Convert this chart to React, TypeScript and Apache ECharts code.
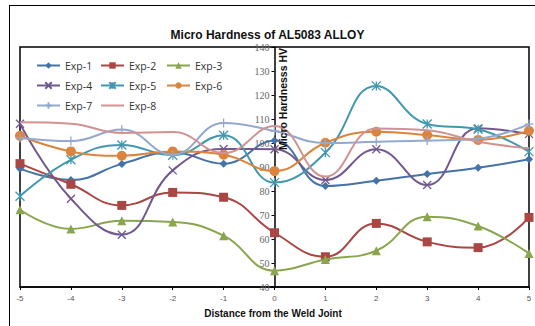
import React, { useEffect, useRef } from "react";
import * as echarts from "echarts";

const xValues = [-5, -4, -3, -2, -1, 0, 1, 2, 3, 4, 5];
const exp1 = [89.3, 84.6, 91.3, 96.1, 91.4, 101, 82.1, 84.3, 87.1, 89.7, 93.2];
const exp2 = [91.4, 82.8, 74, 79.4, 77.4, 62.6, 52.6, 66.5, 58.8, 56.4, 69];
const exp3 = [72.2, 64.2, 67.6, 67.1, 61.4, 46.8, 51.5, 55.1, 69.3, 65.4, 54];
const exp4 = [108, 76.8, 61.8, 88.6, 97.5, 97.4, 84.6, 97.4, 82.5, 106.1, 103.8];
const exp5 = [77.8, 93, 99.2, 94.9, 103.2, 83.5, 96, 123.8, 107.9, 105.7, 96.4];
const exp6 = [103, 96.5, 94.7, 96.5, 95.1, 88.3, 100.1, 104.7, 103.3, 101.3, 105.1];
const exp7 = [102.1, 100.8, 105.6, 95.1, 108.3, 105, 100, 100.5, 101, 101.8, 107.9];
const exp8 = [108.6, 108, 104.2, 104.6, 95.8, 107.1, 86, 106, 105.3, 100.5, 97.8];

const seriesNames = ["Exp-1", "Exp-2", "Exp-3", "Exp-4", "Exp-5", "Exp-6", "Exp-7", "Exp-8"];
const seriesValues = [exp1, exp2, exp3, exp4, exp5, exp6, exp7, exp8];
const colors = ["#4572A7", "#AA4643", "#89A54E", "#71588F", "#4198AF", "#DB843D", "#93A9CF", "#D19392"];
const symbols = [
  "diamond",
  "rect",
  "triangle",
  "path://M0,0L10,10M10,0L0,10",
  "path://M0,0L10,10M10,0L0,10M5,0L5,10",
  "circle",
  "path://M5,0L5,10M0,5L10,5",
  "none",
];
const symbolSizes = [8, 9, 9, 8, 9, 10, 9, 0];

const title = "Micro Hardness of AL5083 ALLOY";
const xTitle = "Distance from the Weld Joint";
const yTitle = "Micro Hardnesss HV";

export default function App() {
  const ref = useRef<HTMLDivElement>(null);
  useEffect(() => {
    const chart = echarts.init(ref.current!, null, { renderer: "svg" });
    const series = seriesNames.map((name, i) => {
      const isPath = symbols[i].startsWith("path://");
      return {
        name,
        type: "line",
        smooth: 0.45,
        data: xValues.map((x, j) => [x, seriesValues[i][j]]),
        symbol: symbols[i],
        symbolSize: symbolSizes[i],
        lineStyle: { color: colors[i], width: 2 },
        itemStyle: isPath
          ? { color: "rgba(0,0,0,0)", borderColor: colors[i], borderWidth: 1.3 }
          : { color: colors[i] },
        z: 2 + i,
      };
    });
    const legendItem = (name: string) => {
      const i = seriesNames.indexOf(name);
      return symbols[i] === "none" ? { name, itemStyle: { opacity: 0 } } : { name };
    };
    const legendBase = {
      orient: "vertical",
      itemWidth: 23,
      itemHeight: 8,
      itemGap: 9,
      textStyle: { fontFamily: "Open Sans", fontSize: 10.5, color: "#333" },
      padding: 0,
    };
    chart.setOption({
      animation: false,
      backgroundColor: "#fff",
      title: {
        text: title,
        left: "center",
        top: 24,
        textStyle: { fontFamily: "Liberation Sans", fontSize: 12, fontWeight: "bold", color: "#111" },
      },
      legend: [
        { ...legendBase, left: 36, top: 60, data: ["Exp-1", "Exp-4", "Exp-7"].map(legendItem) },
        { ...legendBase, left: 100, top: 60, data: ["Exp-2", "Exp-5", "Exp-8"].map(legendItem) },
        { ...legendBase, left: 166, top: 60, data: ["Exp-3", "Exp-6"].map(legendItem) },
      ],
      grid: {
        left: 20,
        right: 6,
        top: 47,
        bottom: 39,
        show: true,
        borderColor: "#000",
        borderWidth: 1.5,
        containLabel: false,
      },
      xAxis: {
        type: "value",
        min: -5,
        max: 5,
        interval: 1,
        axisLine: { onZero: false, lineStyle: { color: "#000", width: 1.5 } },
        axisTick: { show: true, length: 3, lineStyle: { color: "#000" } },
        axisLabel: { fontFamily: "Liberation Sans", fontSize: 8, color: "#555", margin: 7 },
        splitLine: { show: false },
      },
      yAxis: {
        type: "value",
        min: 40,
        max: 140,
        interval: 10,
        position: "left",
        offset: -254.5,
        axisLine: { onZero: false, lineStyle: { color: "#000", width: 1.5 } },
        axisTick: { show: true, length: 3, lineStyle: { color: "#000" } },
        axisLabel: { fontFamily: "Liberation Serif", fontSize: 10, color: "#666", margin: 5 },
        splitLine: { show: false },
      },
      graphic: [
        { type: "line", shape: { x1: 9.5, y1: 5, x2: 9.5, y2: 326 }, style: { stroke: "#000", lineWidth: 1 } },
        { type: "line", shape: { x1: 9, y1: 5.5, x2: 535, y2: 5.5 }, style: { stroke: "#000", lineWidth: 1 } },
        {
          type: "text",
          x: 283,
          y: 99,
          rotation: Math.PI / 2,
          z: 100,
          style: {
            text: yTitle,
            fontFamily: "Liberation Sans",
            fontSize: 10.5,
            fontWeight: "bold",
            fill: "#111",
            align: "center",
            verticalAlign: "middle",
          },
        },
        {
          type: "text",
          x: 273,
          y: 313,
          style: {
            text: xTitle,
            fontFamily: "Liberation Sans",
            fontSize: 10,
            fontWeight: "bold",
            fill: "#111",
            align: "center",
            verticalAlign: "middle",
          },
        },
      ],
      series,
    });
    return () => chart.dispose();
  }, []);
  return <div ref={ref} style={{ position: "absolute", left: 0, top: 0, width: 535, height: 326 }} />;
}
